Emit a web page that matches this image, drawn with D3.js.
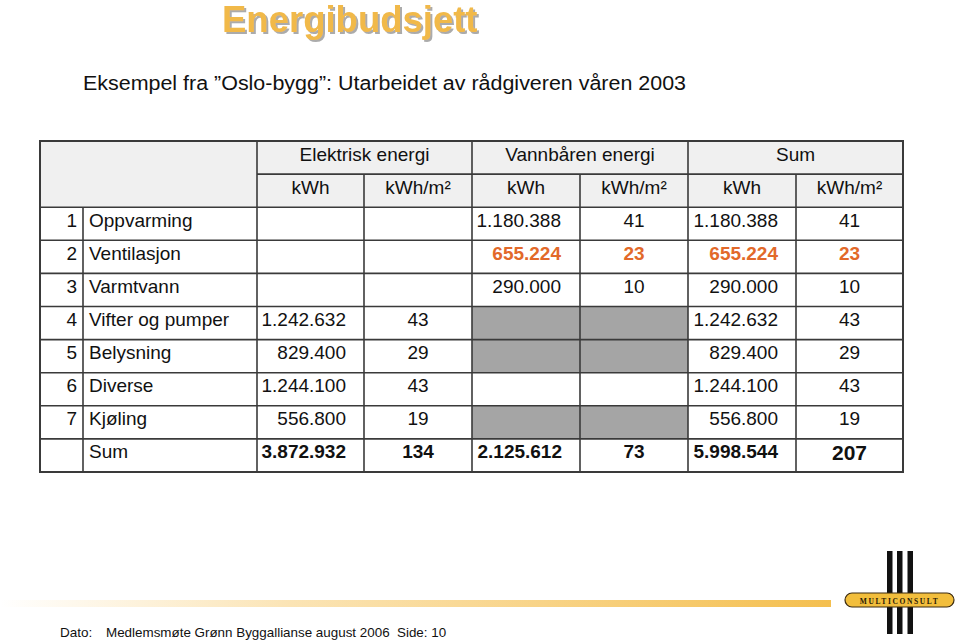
<!DOCTYPE html>
<html><head><meta charset="utf-8">
<script src="https://cdn.jsdelivr.net/npm/d3@7"></script>
<style>body{margin:0;background:#fff}svg{display:block;font-family:"Liberation Sans",Arial,sans-serif}</style>
</head><body>
<script>
const title = "Energibudsjett";
const subtitle = "Eksempel fra \u201dOslo-bygg\u201d: Utarbeidet av rådgiveren våren 2003";
const groupHeaders = ["Elektrisk energi", "Vannbåren energi", "Sum"];
const unitHeaders = ["kWh", "kWh/m²"];
const rowNums = [1, 2, 3, 4, 5, 6, 7];
const categories = ["Oppvarming", "Ventilasjon", "Varmtvann", "Vifter og pumper", "Belysning", "Diverse", "Kjøling"];
const elKwh = [null, null, null, 1242632, 829400, 1244100, 556800];
const elM2 = [null, null, null, 43, 29, 43, 19];
const vbKwh = [1180388, 655224, 290000, null, null, null, null];
const vbM2 = [41, 23, 10, null, null, null, null];
const sumKwh = [1180388, 655224, 290000, 1242632, 829400, 1244100, 556800];
const sumM2 = [41, 23, 10, 43, 29, 43, 19];
const vbShaded = [false, false, false, true, true, false, true];
const highlightRow = [false, true, false, false, false, false, false];
const totalLabel = "Sum";
const totalsKwh = [3872932, 2125612, 5998544];
const totalsM2 = [134, 73, 207];
const footerLabel = "Dato:";
const footer = "Medlemsmøte Grønn Byggallianse august 2006  Side: 10";

const W = 959, H = 642;
const svg = d3.select("body").append("svg").attr("width", W).attr("height", H);
const loc = d3.formatLocale({decimal: ",", thousands: ".", grouping: [3], currency: ["", ""]});
const fmt = loc.format(",d");

const colEdges = [40, 83, 257, 364, 472, 580, 688, 796, 903];
const xCol = d3.scaleOrdinal().domain(d3.range(colEdges.length)).range(colEdges);
const y = d3.scaleLinear().domain([0, 10]).range([141, 472]);
const lineCol = "#3a3a3a";
const orange = "#e2692a";

const defs = svg.append("defs");
const sh = defs.append("filter").attr("id", "tshadow").attr("x", "-5%").attr("y", "-20%").attr("width", "115%").attr("height", "150%");
sh.append("feDropShadow").attr("dx", 2).attr("dy", 2).attr("stdDeviation", 0.6)
  .attr("flood-color", "#888").attr("flood-opacity", 0.7);

svg.append("text").attr("x", 222).attr("y", 32).attr("font-size", 36.5).attr("font-weight", "bold")
  .attr("fill", "#f1b94a").attr("filter", "url(#tshadow)").text(title);

svg.append("text").attr("x", 83).attr("y", 90).attr("font-size", 19.5).attr("fill", "#111")
  .attr("textLength", 603).attr("lengthAdjust", "spacingAndGlyphs").text(subtitle);

svg.append("rect").attr("x", xCol(0)).attr("y", y(0)).attr("width", xCol(8) - xCol(0)).attr("height", y(2) - y(0)).attr("fill", "#f0f0f0");

const g = svg.append("g");
vbShaded.forEach((s, i) => {
  if (!s) return;
  g.append("rect").attr("x", xCol(4)).attr("y", y(i + 2)).attr("width", xCol(6) - xCol(4)).attr("height", y(i + 3) - y(i + 2)).attr("fill", "#a5a5a5");
});

const L = svg.append("g").attr("stroke", lineCol).attr("stroke-width", 1.6);
L.append("line").attr("x1", xCol(2)).attr("x2", xCol(8)).attr("y1", y(1)).attr("y2", y(1));
for (let r = 2; r < 10; r++) L.append("line").attr("x1", xCol(0)).attr("x2", xCol(8)).attr("y1", y(r)).attr("y2", y(r));
L.append("line").attr("x1", xCol(1)).attr("x2", xCol(1)).attr("y1", y(2)).attr("y2", y(10));
[2, 4, 6].forEach(c => L.append("line").attr("x1", xCol(c)).attr("x2", xCol(c)).attr("y1", y(0)).attr("y2", y(10)));
[3, 5, 7].forEach(c => L.append("line").attr("x1", xCol(c)).attr("x2", xCol(c)).attr("y1", y(1)).attr("y2", y(10)));
svg.append("rect").attr("x", xCol(0)).attr("y", y(0)).attr("width", xCol(8) - xCol(0)).attr("height", y(10) - y(0))
  .attr("fill", "none").attr("stroke", lineCol).attr("stroke-width", 2);

const T = svg.append("g").attr("font-size", 19).attr("fill", "#111");
function txt(x, yy, s, anchor, opts = {}) {
  const t = T.append("text").attr("x", x).attr("y", yy).attr("text-anchor", anchor).text(s);
  if (opts.bold) t.attr("font-weight", "bold");
  if (opts.fill) t.attr("fill", opts.fill);
  if (opts.size) t.attr("font-size", opts.size);
  return t;
}
const base = r => y(r) + 19.5;
groupHeaders.forEach((h, i) => {
  const c = 2 + i * 2;
  txt((xCol(c) + xCol(c + 2)) / 2, base(0), h, "middle");
  unitHeaders.forEach((u, j) => txt((xCol(c + j) + xCol(c + j + 1)) / 2, base(1), u, "middle"));
});
categories.forEach((cat, i) => {
  const r = i + 2;
  const o = highlightRow[i] ? {bold: true, fill: orange} : {};
  txt(xCol(1) - 6, base(r), rowNums[i], "end");
  txt(xCol(1) + 6, base(r), cat, "start");
  if (elKwh[i] != null) txt(xCol(3) - 18, base(r), fmt(elKwh[i]), "end", o);
  if (elM2[i] != null) txt((xCol(3) + xCol(4)) / 2, base(r), elM2[i], "middle", o);
  if (vbKwh[i] != null) txt(xCol(5) - 19, base(r), fmt(vbKwh[i]), "end", o);
  if (vbM2[i] != null) txt((xCol(5) + xCol(6)) / 2, base(r), vbM2[i], "middle", o);
  txt(xCol(7) - 18, base(r), fmt(sumKwh[i]), "end", o);
  txt((xCol(7) + xCol(8)) / 2, base(r), sumM2[i], "middle", o);
});
txt(xCol(1) + 6, base(9), totalLabel, "start");
totalsKwh.forEach((v, i) => {
  const c = 2 + i * 2;
  txt(xCol(c + 1) - 18, base(9), fmt(v), "end", {bold: true});
  const t = txt((xCol(c + 1) + xCol(c + 2)) / 2, base(9) + (i === 2 ? 2 : 0), totalsM2[i], "middle", {bold: true});
  if (i === 2) t.attr("font-size", 21);
});

const grad = defs.append("linearGradient").attr("id", "fbar").attr("x1", "0").attr("x2", "1");
grad.append("stop").attr("offset", "0").attr("stop-color", "#f6c35a").attr("stop-opacity", 0);
grad.append("stop").attr("offset", "0.35").attr("stop-color", "#f6c35a").attr("stop-opacity", 0.45);
grad.append("stop").attr("offset", "1").attr("stop-color", "#f4bf4f").attr("stop-opacity", 1);
svg.append("rect").attr("x", 0).attr("y", 600).attr("width", 831).attr("height", 7).attr("fill", "url(#fbar)");

svg.append("text").attr("x", 60).attr("y", 637).attr("font-size", 13.5).attr("fill", "#111").text(footerLabel);
svg.append("text").attr("x", 106).attr("y", 637).attr("font-size", 13.4).attr("fill", "#111")
  .style("white-space", "pre").text(footer);

const lg = svg.append("g");
[887, 897, 907.5].forEach(x => lg.append("rect").attr("x", x).attr("y", 551).attr("width", 5.5).attr("height", 83).attr("fill", "#111"));
lg.append("rect").attr("x", 845).attr("y", 593).attr("width", 109).attr("height", 14).attr("rx", 7)
  .attr("fill", "#f2be3c").attr("stroke", "#3a2a10").attr("stroke-width", 1.2);
lg.append("text").attr("x", 899.5).attr("y", 603.5).attr("text-anchor", "middle").attr("font-size", 7.5)
  .attr("font-family", "'Liberation Serif', serif").attr("font-weight", "bold").attr("letter-spacing", 1.6)
  .attr("fill", "#2a1a05").text("MULTICONSULT");
</script>
</body></html>
